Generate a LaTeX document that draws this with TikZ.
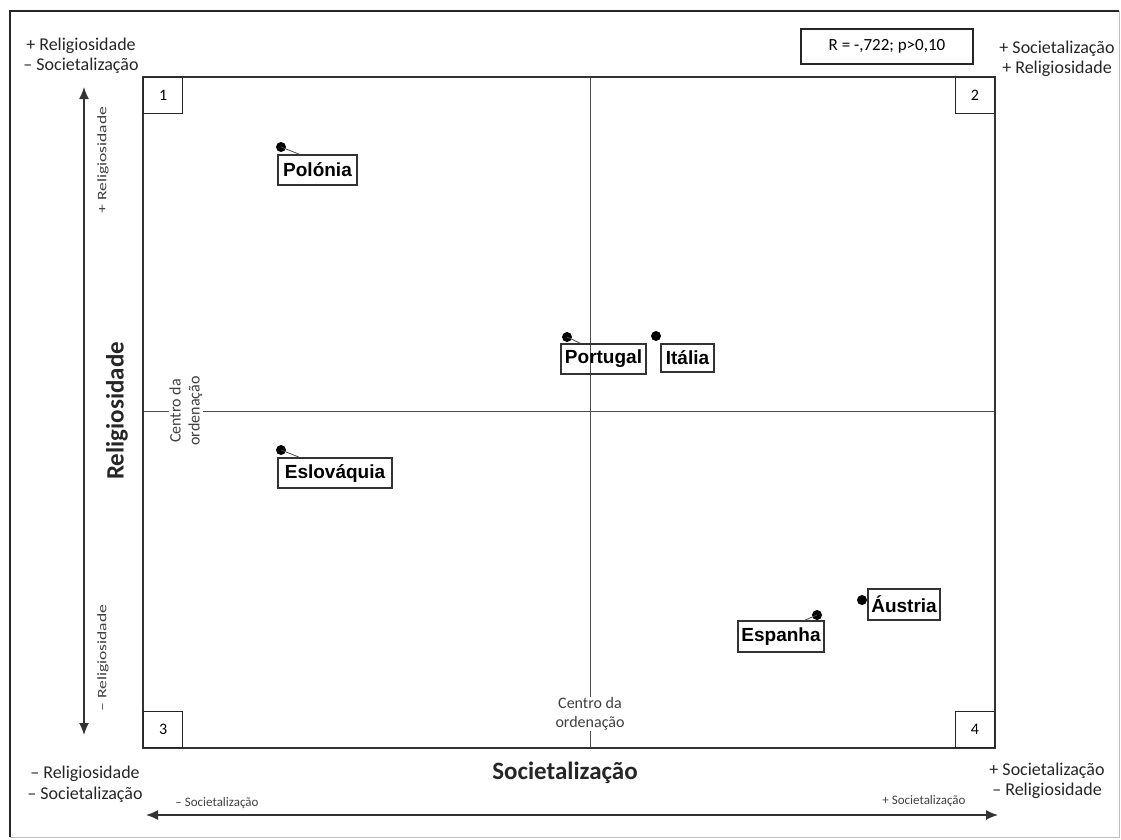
\documentclass[tikz,border=0pt]{standalone}
\usepackage{fontspec}
\usepackage{graphicx}
\newfontfamily\carlito{Carlito}
\newfontfamily\lsans{Liberation Sans}
\usetikzlibrary{calc,arrows.meta}
\newcommand{\stretchtxt}[1]{\scalebox{1.35}[1]{#1}}
\begin{document}
\begin{tikzpicture}[x=1pt,y=-1pt,
  lbl/.style={font=\carlito\fontsize{18}{20.5}\selectfont, align=center, inner sep=0pt, text=black!85},
  smalllbl/.style={font=\carlito\fontsize{13}{15}\selectfont, inner sep=0pt, text=black!75},
  centrolbl/.style={font=\carlito\fontsize{16}{19}\selectfont, align=center, inner sep=1pt, fill=white, text=black!75},
  axistitle/.style={font=\carlito\bfseries\fontsize{25}{28}\selectfont, inner sep=0pt, text=black!85},
  quad/.style={draw=black!85, line width=1.2pt, minimum width=39pt, minimum height=36pt, inner sep=0pt, font=\carlito\fontsize{16}{18}\selectfont},
  country/.style={draw=black!80, line width=1.6pt, inner sep=0pt, font=\lsans\bfseries\fontsize{19}{21}\selectfont},
  dot/.style={circle, fill=black, minimum size=10pt, inner sep=0pt},
  leader/.style={draw=black!70, line width=0.8pt},
  arr/.style={line width=1.4pt, draw=black!80, -{Latex[length=12pt,width=10pt]}}
]
\useasboundingbox (0,0) rectangle (1121,839);
% outer frame
\draw[black!25, line width=1pt] (1119,11) -- (1119,837) -- (10,837);
\draw[black!85, line width=1.2pt] (10,837) -- (10,11) -- (1119,11);

% plot frame and centre lines
\coordinate (tl) at (143,77);
\coordinate (br) at (995,748);
\draw[black!70, line width=1pt] (590,77) -- (590,748);
\draw[black!70, line width=1pt] (143,411) -- (995,411);
\draw[black!80, line width=1.6pt] (tl) rectangle (br);

% quadrant boxes
\node[quad, anchor=north west] (q1) at (143,77) {1};
\node[quad, anchor=north east] (q2) at (995,77) {2};
\node[quad, anchor=south west] (q3) at (143,748) {3};
\node[quad, anchor=south east] (q4) at (995,748) {4};

% R box
\node[draw=black!85, line width=1.2pt, minimum width=172pt, minimum height=35pt, inner sep=0pt, font=\carlito\fontsize{17}{20}\selectfont] (R) at (887,46.5) {R = -,722; p>0,10};

% corner labels
\node[lbl] (ctl) at (81,56) {+ Religiosidade\\– Societalização};
\node[lbl] (ctr) at (1057,59) {+ Societalização\\+ Religiosidade};
\node[lbl] (cbl) at (85,784) {– Religiosidade\\– Societalização};
\node[lbl] (cbr) at (1047,781) {+ Societalização\\– Religiosidade};

% axis arrows
\coordinate (vt) at (84,87);
\coordinate (vb) at (84,735);
\coordinate (vm) at (84,411);
\draw[arr] (vm) -- (vt);
\draw[arr] (vm) -- (vb);
\coordinate (hl) at (146,815);
\coordinate (hr) at (998,815);
\coordinate (hm) at (570,815);
\draw[arr] (hm) -- (hl);
\draw[arr] (hm) -- (hr);

\node[smalllbl, rotate=90] (rplus) at (103,160) {\stretchtxt{+ Religiosidade}};
\node[smalllbl, rotate=90] (rminus) at (103,658) {\stretchtxt{– Religiosidade}};
\node[smalllbl] (sminus) at (217,803) {– Societalização};
\node[smalllbl] (splus) at (924,801) {+ Societalização};

\node[axistitle, rotate=90] (yt) at (117,411) {Religiosidade};
\node[axistitle] (xt) at (565,773) {Societalização};

% centre labels
\node[centrolbl] (cx) at (590,714) {Centro da\\ordenação};
\node[centrolbl, rotate=90] (cy) at (186,411) {Centro da\\ordenação};

% countries
\node[country, minimum width=79pt, minimum height=30pt] (Pol) at (317.5,170) {Polónia};
\node[country, minimum width=85pt, minimum height=30pt] (Por) at (603.5,359) {Portugal};
\node[country, minimum width=53pt, minimum height=28pt] (Ita) at (687.5,358) {Itália};
\node[country, minimum width=114pt, minimum height=30pt] (Esl) at (335,473) {Eslováquia};
\node[country, minimum width=86pt, minimum height=31pt] (Esp) at (781,636.5) {Espanha};
\node[country, minimum width=72pt, minimum height=31pt] (Aus) at (904,604.5) {Áustria};

\node[dot] (dPol) at (281,147) {};
\node[dot] (dPor) at (567,337) {};
\node[dot] (dIta) at (656,336) {};
\node[dot] (dEsl) at (281,450) {};
\node[dot] (dEsp) at (817,615) {};
\node[dot] (dAus) at (862,600) {};

\draw[leader] (dPol.center) -- ($(Pol.north west)+(22,0)$);
\draw[leader] (dPor.center) -- ($(Por.north west)+(20,0)$);
\draw[leader] (dEsl.center) -- ($(Esl.north west)+(22,0)$);
\draw[leader] (dEsp.center) -- ($(Esp.north east)+(-20,0)$);
\end{tikzpicture}
\end{document}
